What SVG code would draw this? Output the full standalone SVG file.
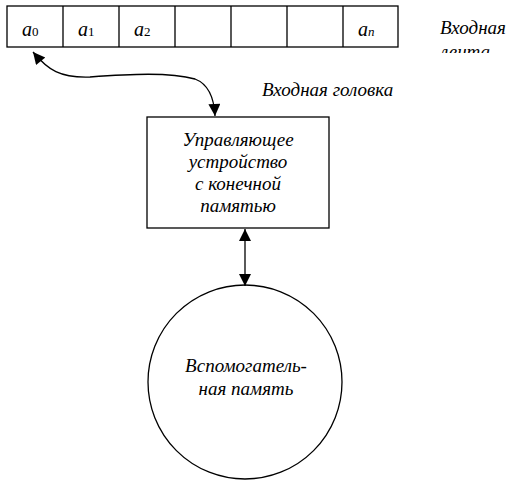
<svg xmlns="http://www.w3.org/2000/svg" width="510" height="480" viewBox="0 0 510 480">
<defs>
<marker id="ah2" viewBox="0 0 10 10" refX="10" refY="5" markerWidth="16" markerHeight="12" markerUnits="userSpaceOnUse" orient="auto-start-reverse">
<path d="M0,0 L10,5 L0,10 Z" fill="#000"/>
</marker>
</defs>
<rect width="510" height="480" fill="#fff"/>
<g id="tape" fill="none" stroke="#000" stroke-width="1.3">
<rect x="7" y="6" width="391" height="41"/>
<path d="M63,6V47M119,6V47M175,6V47M231,6V47M287,6V47M343,6V47"/>
</g>
<text x="22" y="36" font-family="Liberation Serif" font-style="italic" font-size="20">a<tspan font-style="normal" font-size="13">0</tspan></text>
<text x="78" y="36" font-family="Liberation Serif" font-style="italic" font-size="20">a<tspan font-style="normal" font-size="13">1</tspan></text>
<text x="134" y="36" font-family="Liberation Serif" font-style="italic" font-size="20">a<tspan font-style="normal" font-size="13">2</tspan></text>
<text x="358" y="36" font-family="Liberation Serif" font-style="italic" font-size="20">a<tspan font-size="13">n</tspan></text>
<g id="tape-label">
<text x="440" y="34" font-family="Liberation Serif" font-style="italic" font-size="19">Входная</text>
<text x="440" y="58" font-family="Liberation Serif" font-style="italic" font-size="19">лента</text>
<rect x="420" y="53" width="90" height="12" fill="#fff"/>
</g>
<g id="head-label">
<text x="262" y="96" font-family="Liberation Serif" font-style="italic" font-size="19">Входная головка</text>
</g>
<g id="control">
<rect x="147" y="117" width="182" height="111" fill="none" stroke="#000" stroke-width="1.3"/>
<text x="238" y="146" text-anchor="middle" font-family="Liberation Serif" font-style="italic" font-size="19">Управляющее</text>
<text x="238" y="168" text-anchor="middle" font-family="Liberation Serif" font-style="italic" font-size="19">устройство</text>
<text x="238" y="190" text-anchor="middle" font-family="Liberation Serif" font-style="italic" font-size="19">с конечной</text>
<text x="238" y="212" text-anchor="middle" font-family="Liberation Serif" font-style="italic" font-size="19">памятью</text>
</g>
<g id="memory">
<circle cx="245" cy="382" r="97" fill="none" stroke="#000" stroke-width="1.3"/>
<text x="246" y="372" text-anchor="middle" font-family="Liberation Serif" font-style="italic" font-size="19">Вспомогатель-</text>
<text x="246" y="395" text-anchor="middle" font-family="Liberation Serif" font-style="italic" font-size="19">ная память</text>
</g>
<g id="connectors" fill="none" stroke="#000" stroke-width="1.3">
<path d="M33,52 C48,70 60,78 90,77 C130,74 170,72 195,79 C208,84 214,96 215,116" marker-start="url(#ah2)" marker-end="url(#ah2)"/>
<path d="M245,229 V286" marker-start="url(#ah2)" marker-end="url(#ah2)"/>
</g>
</svg>
